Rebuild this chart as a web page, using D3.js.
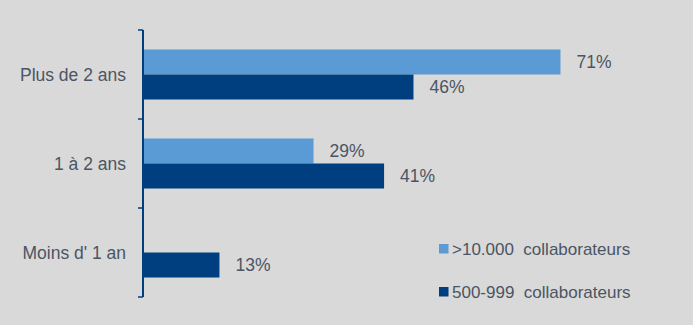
<!DOCTYPE html>
<html>
<head>
<meta charset="utf-8">
<script src="https://cdn.jsdelivr.net/npm/d3@7"></script>
<style>
  html, body { margin: 0; padding: 0; background: #d9d9d9; }
  svg { display: block; }
  text { font-family: "Liberation Sans", Arial, sans-serif; }
</style>
</head>
<body>
<svg id="chart" width="693" height="325"></svg>
<script>
// Durée, par taille d'entreprise
const categories = ["Plus de 2 ans", "1 à 2 ans", "Moins d' 1 an"];
const seriesNames = [">10.000  collaborateurs", "500-999  collaborateurs"];
const seriesLarge = [71, 29, null];   // >10.000 collaborateurs
const seriesMid = [46, 41, 13];       // 500-999 collaborateurs
const colors = ["#5b9bd5", "#003f7f"];

const svg = d3.select("#chart");
const W = 693, H = 325;
svg.append("rect").attr("width", W).attr("height", H).attr("fill", "#d9d9d9");

const axisX = 143;
const y = d3.scaleBand().domain(categories).range([30, 297]).paddingInner(0.438).paddingOuter(0.219);
const x = d3.scaleLinear().domain([0, 100]).range([axisX, axisX + 588]);
const ySeries = d3.scaleBand().domain([0, 1]).range([0, y.bandwidth()]);

const textColor = "#4b5563";
const fontSize = 17.5;

// bars with value labels
const rows = categories.map((c, i) => ({ cat: c, vals: [seriesLarge[i], seriesMid[i]] }));
const g = svg.append("g");
rows.forEach(r => {
  r.vals.forEach((v, s) => {
    if (v == null) return;
    const y0 = y(r.cat) + ySeries(s);
    g.append("rect")
      .attr("x", x(0)).attr("y", y0)
      .attr("width", x(v) - x(0)).attr("height", ySeries.bandwidth())
      .attr("fill", colors[s]);
    g.append("text")
      .attr("x", x(v) + 16).attr("y", y0 + ySeries.bandwidth() / 2)
      .attr("dy", "0.36em")
      .attr("font-size", fontSize).attr("fill", textColor)
      .text(v + "%");
  });
});

// category axis
const axisG = svg.append("g");
axisG.append("line")
  .attr("x1", axisX).attr("x2", axisX)
  .attr("y1", y.range()[0]).attr("y2", y.range()[1])
  .attr("stroke", "#003f7f").attr("stroke-width", 2);
const tickYs = d3.range(categories.length + 1).map(i => y.range()[0] + i * (y.range()[1] - y.range()[0]) / categories.length);
axisG.selectAll("line.tick").data(tickYs).join("line")
  .attr("class", "tick")
  .attr("x1", axisX - 5).attr("x2", axisX)
  .attr("y1", d => d).attr("y2", d => d)
  .attr("stroke", "#003f7f").attr("stroke-width", 1.5);
axisG.selectAll("text.cat").data(categories).join("text")
  .attr("class", "cat")
  .attr("x", 126).attr("y", d => y(d) + y.bandwidth() / 2)
  .attr("dy", "0.36em")
  .attr("text-anchor", "end")
  .attr("font-size", fontSize).attr("fill", textColor)
  .text(d => d);

// legend
const legend = svg.append("g");
const legendY = [249, 292];
seriesNames.forEach((name, i) => {
  legend.append("rect")
    .attr("x", 439).attr("y", legendY[i] - 5)
    .attr("width", 9.5).attr("height", 9.5)
    .attr("fill", colors[i]);
  legend.append("text")
    .attr("x", 452).attr("y", legendY[i])
    .attr("dy", "0.36em")
    .attr("font-size", 17).attr("fill", textColor)
    .attr("xml:space", "preserve")
    .style("white-space", "pre")
    .text(name);
});
</script>
</body>
</html>
